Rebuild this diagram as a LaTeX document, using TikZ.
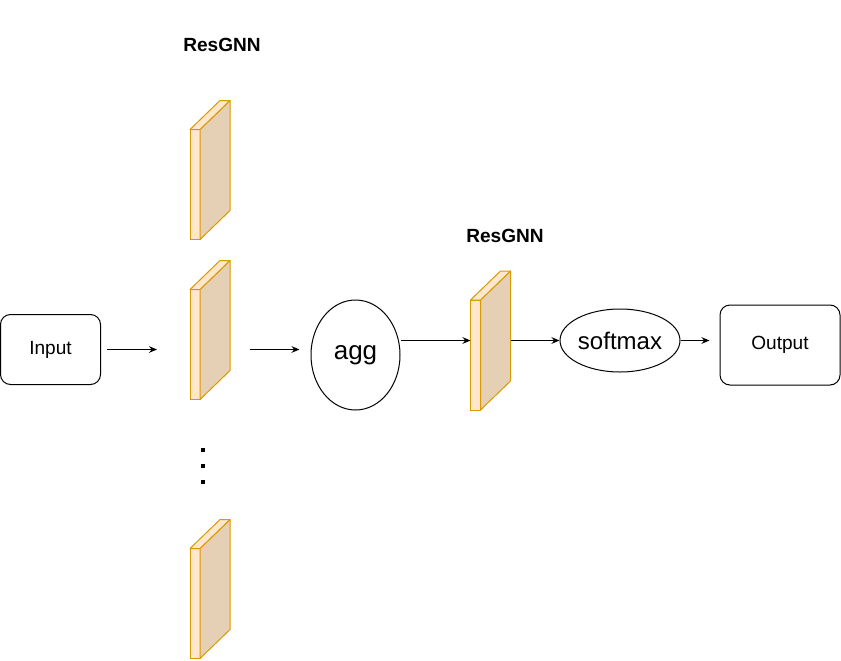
\documentclass[tikz,border=0pt]{standalone}
\usepackage{fontspec}
\setmainfont{Liberation Sans}
\usetikzlibrary{arrows.meta,positioning,calc,shapes.geometric}
\definecolor{layerfill}{HTML}{FFE6CC}
\definecolor{layerside}{HTML}{E6D0B5}
\definecolor{layerline}{HTML}{D79B00}

% one ResGNN layer: front face node plus side and top faces
\newcommand{\reslayer}[2]{%
  \node[layer] (#1) at (#2) {};
  \filldraw[face, fill=layerside] (#1.north east) -- ++(30,-29) -- ++(0,110) -- (#1.south east) -- cycle;
  \filldraw[face, fill=layerfill] (#1.north west) -- ++(30,-29) -- ++(10,0) -- (#1.north east) -- cycle;
  \coordinate (#1-r) at ($(#1.east)+(30,0)$);
}

\begin{document}
\begin{tikzpicture}[
  x=0.75pt, y=-0.75pt,
  >={Stealth[length=6pt,width=5pt]},
  line width=0.75pt,
  box/.style={rectangle, draw, rounded corners=7.5pt, minimum width=75pt, minimum height=52.5pt, inner sep=0pt, font=\fontsize{14.3}{17}\selectfont},
  oval/.style={ellipse, draw, inner sep=0pt, font=\fontsize{19.5}{23}\selectfont},
  layer/.style={rectangle, draw=layerline, fill=layerfill, minimum width=7.5pt, minimum height=82.5pt, inner sep=0pt, outer sep=0pt},
  face/.style={draw=layerline, line width=0.75pt, line join=round},
  title/.style={font=\fontsize{14.3}{17}\selectfont\bfseries},
  flow/.style={->, draw=black, line width=0.75pt}
]
  \useasboundingbox (0,0) rectangle (841,660);

  \node[box] (inp) at (50.5,349.5) {Input};
  \reslayer{l1}{195,184.5}
  \reslayer{l2}{195,344.5}
  \reslayer{l4}{195,603.5}
  \foreach \y in {450,466,482}
    \fill (201,\y-2) rectangle (205,\y+2);
  \node[title] (t1) at (222,45) {ResGNN};

  \node[oval, minimum width=66.75pt, minimum height=82.5pt] (agg) at (355.5,355) {agg};
  \reslayer{l3}{475.5,355}
  \node[title] (t2) at (505,236) {ResGNN};
  \node[oval, minimum width=90pt, minimum height=47.25pt, font=\fontsize{18}{22}\selectfont] (sm) at (620,340.5) {softmax};
  \node[box, minimum width=90pt, minimum height=60pt] (out) at (780,345) {Output};

  \draw[flow, shorten <=4.5pt, shorten >=24.75pt] (inp.east) -- (inp.east -| l2.west);
  \draw[flow, shorten <=15pt, shorten >=8.25pt] (inp.east -| l2-r) -- (inp.east -| agg.west);
  \draw[flow] (agg.east |- sm) -- (l3.west |- sm);
  \draw[flow] (l3-r |- sm) -- (sm.west);
  \draw[flow, shorten >=7.5pt] (sm.east) -- (sm.east -| out.west);
\end{tikzpicture}
\end{document}
